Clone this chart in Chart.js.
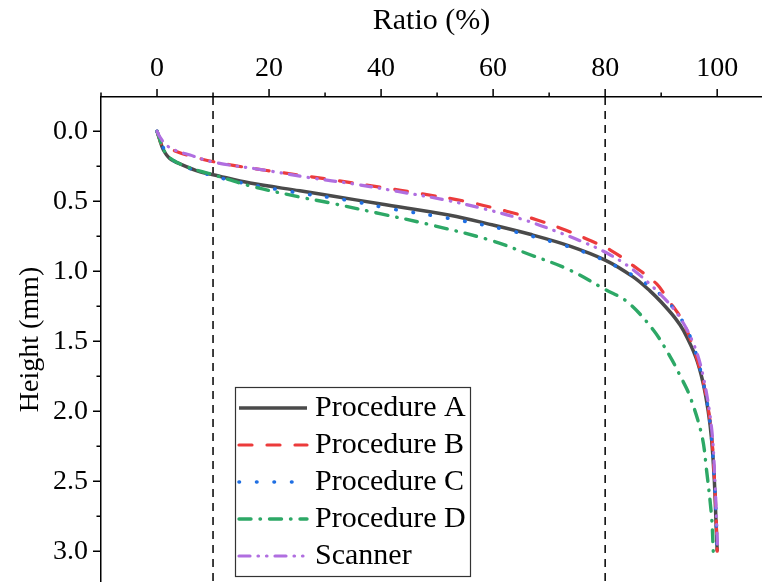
<!DOCTYPE html>
<html>
<head>
<meta charset="utf-8">
<script src="https://cdn.jsdelivr.net/npm/chart.js@4/dist/chart.umd.min.js"></script>
<style>
html,body{margin:0;padding:0;background:#fff;}
#wrap{width:762px;height:582px;position:relative;}
</style>
</head>
<body>
<div id="wrap"><canvas id="c" width="762" height="582"></canvas></div>
<script>
// ---- data (x = Ratio %, y = Height mm) ----
const seriesNames = ["Procedure A", "Procedure B", "Procedure C", "Procedure D", "Scanner"];

const procA_x = [0, 0.5, 1.1, 2.3, 4.5, 7.7, 10, 16.6, 25.5, 31, 40, 52.3, 60, 66.6, 73.7, 80, 85, 88, 90, 92.5, 94, 96.2, 97.5, 98.4, 99, 99.5, 99.8, 100];
const procA_y = [0, 0.06, 0.13, 0.195, 0.24, 0.29, 0.31, 0.37, 0.425, 0.46, 0.52, 0.60, 0.67, 0.736, 0.82, 0.92, 1.04, 1.14, 1.22, 1.335, 1.425, 1.615, 1.8, 2.0, 2.2, 2.5, 2.8, 3.0];

const procB_x = [0, 0.4, 0.8, 3.2, 7.7, 13.6, 19.6, 31, 40, 47, 55, 62.4, 68, 73, 77, 81, 85, 89.2, 91, 94, 97, 98.7, 99.4, 99.8, 100];
const procB_y = [0, 0.05, 0.09, 0.14, 0.196, 0.243, 0.28, 0.345, 0.4, 0.445, 0.5, 0.571, 0.635, 0.707, 0.775, 0.85, 0.96, 1.09, 1.19, 1.37, 1.71, 2.06, 2.4, 2.75, 3.0];

const procC_x = [0, 0.5, 0.9, 2.3, 6.5, 14.2, 23.7, 33.6, 42, 51.4, 62.7, 72.7, 78, 82.7, 87, 91, 94, 96, 97.8, 98.8, 99.5, 99.9, 100];
const procC_y = [0, 0.06, 0.1, 0.19, 0.275, 0.36, 0.43, 0.49, 0.555, 0.617, 0.707, 0.815, 0.89, 0.98, 1.08, 1.21, 1.37, 1.56, 1.85, 2.11, 2.5, 2.85, 3.0];

const procD_x = [0, 0.5, 1, 2.3, 4.5, 7.7, 10, 16.6, 25.5, 30.9, 40, 48.7, 59.5, 66.5, 73.4, 80, 84, 88.6, 91.6, 93.5, 95.2, 97.3, 98.1, 99, 99.3];
const procD_y = [0, 0.06, 0.12, 0.19, 0.24, 0.285, 0.31, 0.39, 0.47, 0.512, 0.59, 0.667, 0.778, 0.88, 0.986, 1.13, 1.22, 1.42, 1.61, 1.755, 1.9, 2.18, 2.42, 2.755, 3.0];

const scan_x = [0, 0.5, 1.7, 3.5, 5.9, 10, 19.6, 27, 35.4, 43, 51.1, 58, 65.4, 72, 76, 79.6, 84, 89, 93, 95.8, 97.5, 99, 99.6, 99.9, 100.1];
const scan_y = [0, 0.04, 0.1, 0.14, 0.17, 0.22, 0.28, 0.33, 0.378, 0.43, 0.488, 0.55, 0.631, 0.726, 0.79, 0.855, 0.96, 1.13, 1.31, 1.52, 1.75, 2.12, 2.5, 2.8, 3.0];

const refLinesX = [10, 80];

const xTickLabels = [0, 20, 40, 60, 80, 100];
const xMinorTicks = [-10, 10, 30, 50, 70, 90];
const yTickLabels = [0, 0.5, 1.0, 1.5, 2.0, 2.5, 3.0];
const yMinorTicks = [0.25, 0.75, 1.25, 1.75, 2.25, 2.75];

const X_MIN = -10, X_MAX = 108, Y_MIN = -0.245, Y_MAX = 3.22;

// ---- build ----
function pts(xs, ys){ return xs.map((x,i)=>({x:x, y:ys[i]})); }
const FONT = '"Liberation Serif", "Times New Roman", serif';

const styles = [
  {color:'#4a4a4a', width:3.5, dash:[], cap:'butt'},
  {color:'#ec3b3b', width:3.2, dash:[13,15], cap:'round'},
  {color:'#1f6fe3', width:3.6, dash:[0.5,17], cap:'round'},
  {color:'#2da866', width:3.4, dash:[12,9,0.5,9], cap:'round'},
  {color:'#b06ee0', width:3.2, dash:[11,8,0.5,8,0.5,8], cap:'round'}
];
const seriesData = [pts(procA_x,procA_y), pts(procB_x,procB_y), pts(procC_x,procC_y), pts(procD_x,procD_y), pts(scan_x,scan_y)];

const datasets = seriesData.map((d,i)=>({
  label: seriesNames[i],
  data: d,
  borderColor: styles[i].color,
  backgroundColor: styles[i].color,
  borderWidth: styles[i].width,
  borderDash: styles[i].dash,
  borderCapStyle: styles[i].cap,
  borderJoinStyle: 'round',
  pointRadius: 0,
  fill: false,
  tension: 0.35,
  order: 5 - i,
  isSeries: true
}));
refLinesX.forEach(v=>{
  datasets.push({
    label: 'ref' + v,
    data: [{x:v, y:Y_MIN}, {x:v, y:Y_MAX}],
    borderColor: '#000',
    borderWidth: 1.5,
    borderDash: [8,6],
    pointRadius: 0,
    fill: false,
    tension: 0,
    order: 10,
    isSeries: false
  });
});

const extrasPlugin = {
  id: 'extras',
  afterDraw(chart){
    const ctx = chart.ctx;
    const xs = chart.scales.x, ys = chart.scales.y;
    const ca = chart.chartArea;
    ctx.save();
    ctx.strokeStyle = '#000';
    ctx.lineWidth = 1.5;
    ctx.beginPath();
    xTickLabels.forEach(v=>{ const p = xs.getPixelForValue(v); ctx.moveTo(p, ca.top); ctx.lineTo(p, ca.top-8); });
    xMinorTicks.forEach(v=>{ if(v<X_MIN||v>X_MAX) return; const p = xs.getPixelForValue(v); ctx.moveTo(p, ca.top); ctx.lineTo(p, ca.top-4.5); });
    yTickLabels.forEach(v=>{ const p = ys.getPixelForValue(v); ctx.moveTo(ca.left, p); ctx.lineTo(ca.left-8, p); });
    yMinorTicks.forEach(v=>{ const p = ys.getPixelForValue(v); ctx.moveTo(ca.left, p); ctx.lineTo(ca.left-4.5, p); });
    ctx.stroke();

    // legend
    const L = {left:235, top:387, right:471, bottom:577};
    ctx.fillStyle = '#fff';
    ctx.fillRect(L.left, L.top, L.right-L.left, L.bottom-L.top);
    ctx.strokeStyle = '#333';
    ctx.lineWidth = 1.2;
    ctx.setLineDash([]);
    ctx.strokeRect(L.left+0.5, L.top+0.5, L.right-L.left-1, L.bottom-L.top-1);
    const rowY0 = 408, rowStep = 37;
    chart.data.datasets.filter(d=>d.isSeries).forEach((d,i)=>{
      const y = rowY0 + i*rowStep;
      ctx.save();
      ctx.strokeStyle = d.borderColor;
      ctx.lineWidth = d.borderWidth;
      ctx.lineCap = d.borderCapStyle || 'butt';
      ctx.setLineDash(d.borderDash || []);
      ctx.beginPath();
      ctx.moveTo(239, y);
      ctx.lineTo(307, y);
      ctx.stroke();
      ctx.restore();
      ctx.fillStyle = '#000';
      ctx.font = '30px ' + FONT;
      ctx.textBaseline = 'middle';
      ctx.textAlign = 'left';
      ctx.fillText(d.label, 315, y);
    });
    ctx.restore();
  }
};

function make(){
  new Chart(document.getElementById('c'), {
    type: 'line',
    data: { datasets: datasets },
    plugins: [extrasPlugin],
    options: {
      responsive: false,
      animation: false,
      events: [],
      layout: { padding: 0 },
      plugins: { legend: { display: false }, tooltip: { enabled: false } },
      scales: {
        x: {
          type: 'linear',
          position: 'top',
          min: X_MIN, max: X_MAX,
          afterBuildTicks: s => { s.ticks = xTickLabels.map(v=>({value:v})); },
          afterFit: s => { s.height = 97; s.paddingLeft = 0; s.paddingRight = 0; },
          grid: { display: true, drawOnChartArea: false, drawTicks: false },
          border: { display: true, color: '#000', width: 1.5 },
          ticks: { color: '#000', font: { family: FONT, size: 28 }, padding: 12, maxRotation: 0, autoSkip: false,
                   callback: v => String(v) },
          title: { display: true, text: 'Ratio (%)', color: '#000', font: { family: FONT, size: 30 }, padding: { top: 3, bottom: 0 } }
        },
        y: {
          type: 'linear',
          position: 'left',
          reverse: true,
          min: Y_MIN, max: Y_MAX,
          afterBuildTicks: s => { s.ticks = yTickLabels.map(v=>({value:v})); },
          afterFit: s => { s.width = 101; s.paddingTop = 0; s.paddingBottom = 0; },
          grid: { display: true, drawOnChartArea: false, drawTicks: false },
          border: { display: true, color: '#000', width: 1.5 },
          ticks: { color: '#000', font: { family: FONT, size: 28 }, padding: 13, autoSkip: false,
                   callback: v => Number(v).toFixed(1) },
          title: { display: true, text: 'Height (mm)', color: '#000', font: { family: FONT, size: 28 }, padding: { top: 14, bottom: 0 } }
        }
      }
    }
  });
}
if (document.fonts && document.fonts.load) {
  document.fonts.load('28px "Liberation Serif"').then(make, make);
} else { make(); }
</script>
</body>
</html>
